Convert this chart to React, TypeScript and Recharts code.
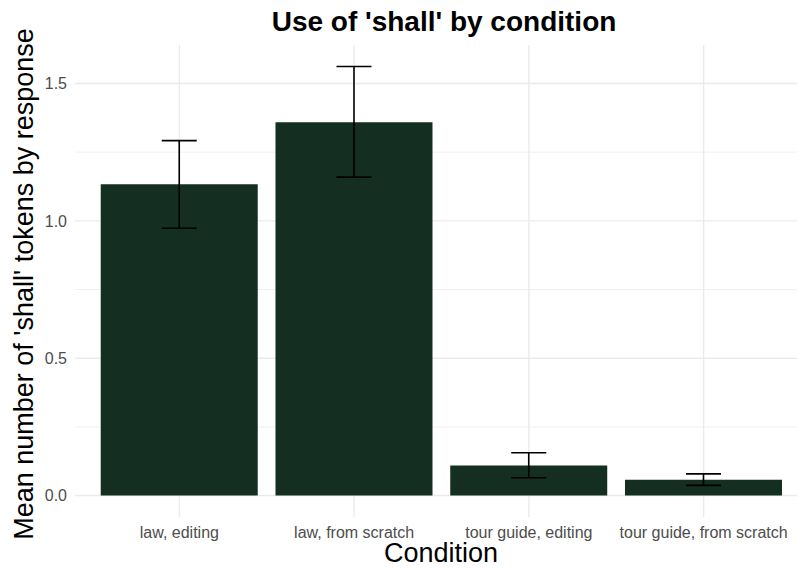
import React from "react";
import { BarChart, Bar, XAxis, YAxis, CartesianGrid, ErrorBar } from "recharts";

const conditions = ["law, editing", "law, from scratch", "tour guide, editing", "tour guide, from scratch"];
const means = [1.133, 1.359, 0.109, 0.058];
const lowerCI = [0.973, 1.159, 0.065, 0.037];
const upperCI = [1.292, 1.562, 0.156, 0.079];
const yTicks = [0, 0.5, 1, 1.5];
const minorTicks = [0.25, 0.75, 1.25];
const yDomain: [number, number] = [-0.078, 1.64];

const data = conditions.map((c, i) => ({
  cond: c,
  mean: means[i],
  err: [means[i] - lowerCI[i], upperCI[i] - means[i]],
}));

const FONT = "'Liberation Sans', Arial, Helvetica, sans-serif";

export default function App() {
  return (
    <div style={{ position: "absolute", left: 0, top: 0, width: 797, height: 569, background: "#fff", fontFamily: FONT }}>
      <BarChart
        width={797}
        height={569}
        data={data}
        margin={{ top: 45, right: 0, bottom: 0, left: 0 }}
        barCategoryGap="5%"
      >
        <CartesianGrid
          yAxisId="minor"
          stroke="#f0f0f0"
          strokeWidth={1}
          vertical={false}
          syncWithTicks
        />
        <CartesianGrid stroke="#ebebeb" strokeWidth={1.4} syncWithTicks />
        <XAxis
          dataKey="cond"
          height={52}
          axisLine={false}
          tickLine={false}
          tickSize={0}
          tickMargin={10}
          padding={{ left: 17, right: 6 }}
          tick={{ fill: "#4d4d4d", fontSize: 16, fontFamily: FONT }}
          interval={0}
        />
        <YAxis
          type="number"
          domain={yDomain}
          ticks={yTicks}
          allowDataOverflow
          width={75}
          axisLine={false}
          tickLine={false}
          tickSize={0}
          tickMargin={8}
          tick={{ fill: "#4d4d4d", fontSize: 16, fontFamily: FONT }}
          tickFormatter={(v: number) => v.toFixed(1)}
        />
        <YAxis
          yAxisId="minor"
          orientation="right"
          type="number"
          domain={yDomain}
          ticks={minorTicks}
          allowDataOverflow
          interval={0}
          width={0}
          axisLine={false}
          tickLine={false}
          tick={{ fill: "none", fontSize: 1 }}
        />
        <Bar dataKey="mean" fill="#142f22" isAnimationActive={false}>
          <ErrorBar dataKey="err" direction="y" width={17.5} stroke="#000" strokeWidth={1.6} isAnimationActive={false} />
        </Bar>
      </BarChart>
      <svg width={797} height={569} style={{ position: "absolute", left: 0, top: 0, pointerEvents: "none" }}>
        <text x={444} y={31} textAnchor="middle" fontSize={28} fontWeight="bold" fill="#000" fontFamily={FONT}>
          Use of 'shall' by condition
        </text>
        <text x={441} y={562} textAnchor="middle" fontSize={27} fill="#000" fontFamily={FONT}>
          Condition
        </text>
        <text
          x={0}
          y={0}
          transform="translate(33,284) rotate(-90)"
          textAnchor="middle"
          fontSize={27}
          fill="#000"
          fontFamily={FONT}
        >
          Mean number of 'shall' tokens by response
        </text>
      </svg>
    </div>
  );
}
